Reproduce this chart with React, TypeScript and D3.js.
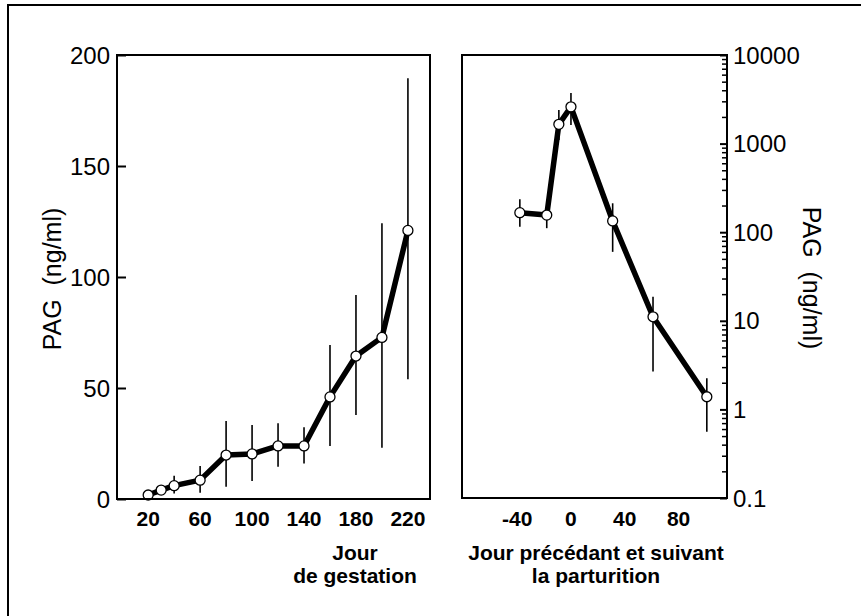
import React, { useEffect, useRef } from "react";
import * as d3 from "d3";

// Left panel: day of gestation
const leftDays = [20, 30, 40, 60, 80, 100, 120, 140, 160, 180, 200, 220];
const leftMean = [1.8, 4, 6, 8.5, 19.8, 20.3, 23.9, 23.9, 46, 64.4, 72.8, 121];
const leftUpper = [null, null, 10.5, 14.9, 35.1, 33.3, 34.1, 32.3, 69.4, 91.9, 124.2, 189.5];
const leftLower = [null, null, 2.5, 2.8, 5.5, 8.1, 14.5, 16, 23.9, 37.8, 23.1, 53.9];
const leftXTicks = [20, 60, 100, 140, 180, 220];
const leftYTicks = [0, 50, 100, 150, 200];

// Right panel: days before/after parturition (log scale)
const rightDays = [-38, -18, -9, 0, 31, 61, 101];
const rightMean = [166, 156, 1650, 2600, 134, 11.1, 1.39];
const rightUpper = [235, 194, 2390, 3730, 212, 18.7, 2.24];
const rightLower = [115, 111, 1100, 1620, 60, 2.67, 0.56];
const rightXTicks = [-40, 0, 40, 80];
const rightYTicks = [0.1, 1, 10, 100, 1000, 10000];

const FONT = "'Liberation Sans', Arial, Helvetica, sans-serif";

export default function App() {
  const ref = useRef<SVGSVGElement | null>(null);

  useEffect(() => {
    const svg = d3.select(ref.current);
    svg.selectAll("*").remove();
    const bold = (g: any) => g.attr("font-family", FONT).attr("font-weight", "bold").attr("fill", "#000");
    const reg = (g: any) => g.attr("font-family", FONT).attr("font-weight", "normal").attr("fill", "#000");

    // outer frame (left + top)
    svg.append("path").attr("d", "M8,616 L8,5 L861,5").attr("fill", "none").attr("stroke", "#000").attr("stroke-width", 2);

    // ---------- left panel ----------
    const xL = d3.scaleLinear().domain([-4, 237]).range([117, 430]);
    const yL = d3.scaleLinear().domain([0, 200]).range([499, 55]);
    const gL = svg.append("g");

    const axL = d3.axisRight(yL).tickValues(leftYTicks).tickSize(9).tickFormat(() => "");
    gL.append("g").attr("transform", `translate(${xL.range()[0]},0)`).call(axL).call(g => {
      g.select(".domain").remove();
      g.selectAll("line").attr("stroke", "#000").attr("stroke-width", 2);
    });
    gL.selectAll(".ylab").data(leftYTicks).enter().append("text")
      .attr("x", 110).attr("y", d => yL(d)).attr("dy", "0.36em")
      .attr("text-anchor", "end").attr("font-size", 24).call(reg).text(d => d);
    gL.selectAll(".xlab").data(leftXTicks).enter().append("text")
      .attr("x", d => xL(d)).attr("y", 526)
      .attr("text-anchor", "middle").attr("font-size", 21).call(bold).text(d => d);

    leftDays.forEach((d, i) => {
      if (leftUpper[i] == null || leftLower[i] == null) return;
      gL.append("line").attr("x1", xL(d)).attr("x2", xL(d))
        .attr("y1", yL(leftUpper[i] as number)).attr("y2", yL(leftLower[i] as number))
        .attr("stroke", "#000").attr("stroke-width", 1.6);
    });
    const lineL = d3.line<number>().x((_, i) => xL(leftDays[i])).y(v => yL(v));
    gL.append("path").attr("d", lineL(leftMean) as string).attr("fill", "none")
      .attr("stroke", "#000").attr("stroke-width", 5.5).attr("stroke-linejoin", "round");
    gL.selectAll("circle").data(leftMean).enter().append("circle")
      .attr("cx", (_, i) => xL(leftDays[i])).attr("cy", v => yL(v)).attr("r", 5)
      .attr("fill", "#fff").attr("stroke", "#000").attr("stroke-width", 1.3);
    gL.append("rect").attr("x", 117).attr("y", 55).attr("width", 313).attr("height", 444)
      .attr("fill", "none").attr("stroke", "#000").attr("stroke-width", 2);

    gL.append("text").attr("transform", `translate(61,279) rotate(-90)`)
      .attr("text-anchor", "middle").attr("font-size", 25).call(reg)
      .attr("xml:space", "preserve").style("white-space", "pre").text("PAG  (ng/ml)");
    gL.append("text").attr("x", 355).attr("y", 560).attr("text-anchor", "middle")
      .attr("font-size", 21).call(bold).text("Jour");
    gL.append("text").attr("x", 355).attr("y", 583).attr("text-anchor", "middle")
      .attr("font-size", 21).call(bold).text("de gestation");

    // ---------- right panel ----------
    const xR = d3.scaleLinear().domain([-81, 116]).range([462, 727]);
    const yR = d3.scaleLog().domain([0.1, 10000]).range([498, 55]);
    const gR = svg.append("g");

    const minorTicks: number[] = [];
    for (let e = -1; e < 4; e++) for (let m = 2; m <= 9; m++) minorTicks.push(m * Math.pow(10, e));
    const axMinor = d3.axisLeft(yR).tickValues(minorTicks).tickSize(5).tickFormat(() => "");
    gR.append("g").attr("transform", `translate(727,0)`).call(axMinor).call(g => {
      g.select(".domain").remove();
      g.selectAll("line").attr("stroke", "#000").attr("stroke-width", 1.5);
    });
    const axMajor = d3.axisLeft(yR).tickValues(rightYTicks).tickSize(7).tickFormat(() => "");
    gR.append("g").attr("transform", `translate(727,0)`).call(axMajor).call(g => {
      g.select(".domain").remove();
      g.selectAll("line").attr("stroke", "#000").attr("stroke-width", 2);
    });
    gR.selectAll(".ylab").data(rightYTicks).enter().append("text")
      .attr("x", 733).attr("y", d => yR(d)).attr("dy", "0.36em")
      .attr("text-anchor", "start").attr("font-size", 24).call(reg)
      .text(d => (d < 1 ? "0.1" : String(d)));
    gR.selectAll(".xlab").data(rightXTicks).enter().append("text")
      .attr("x", d => xR(d)).attr("y", 526)
      .attr("text-anchor", "middle").attr("font-size", 21).call(bold).text(d => d);

    rightDays.forEach((d, i) => {
      gR.append("line").attr("x1", xR(d)).attr("x2", xR(d))
        .attr("y1", yR(rightUpper[i])).attr("y2", yR(rightLower[i]))
        .attr("stroke", "#000").attr("stroke-width", 1.6);
    });
    const lineR = d3.line<number>().x((_, i) => xR(rightDays[i])).y(v => yR(v));
    gR.append("path").attr("d", lineR(rightMean) as string).attr("fill", "none")
      .attr("stroke", "#000").attr("stroke-width", 5.5).attr("stroke-linejoin", "round");
    gR.selectAll("circle").data(rightMean).enter().append("circle")
      .attr("cx", (_, i) => xR(rightDays[i])).attr("cy", v => yR(v)).attr("r", 5)
      .attr("fill", "#fff").attr("stroke", "#000").attr("stroke-width", 1.3);
    gR.append("rect").attr("x", 462).attr("y", 55).attr("width", 265).attr("height", 443)
      .attr("fill", "none").attr("stroke", "#000").attr("stroke-width", 2);

    gR.append("text").attr("transform", `translate(803,278) rotate(90)`)
      .attr("text-anchor", "middle").attr("font-size", 25).call(reg)
      .attr("xml:space", "preserve").style("white-space", "pre").text("PAG  (ng/ml)");
    gR.append("text").attr("x", 596).attr("y", 560).attr("text-anchor", "middle")
      .attr("font-size", 21).call(bold).text("Jour précédant et suivant");
    gR.append("text").attr("x", 596).attr("y", 583).attr("text-anchor", "middle")
      .attr("font-size", 21).call(bold).text("la parturition");
  }, []);

  return (
    <svg ref={ref} width={861} height={616}
      style={{ position: "absolute", left: 0, top: 0, background: "#fff" }} />
  );
}
